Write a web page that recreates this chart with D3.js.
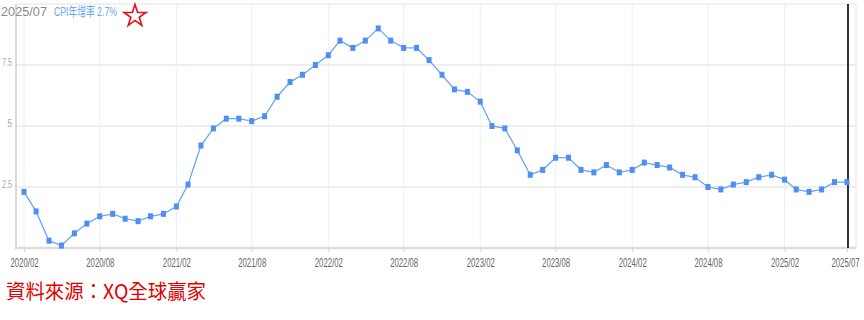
<!DOCTYPE html>
<html>
<head>
<meta charset="utf-8">
<script src="https://cdn.jsdelivr.net/npm/d3@7"></script>
<style>
  body { margin: 0; background: #fff; }
  svg { display: block; }
</style>
</head>
<body>
<svg id="svg"></svg>
<script>
// CPI yoy %, monthly from 2020/02 to 2025/07
const firstMonth = "2020/02";
const lastMonth = "2025/07";
const cpi = [
  2.3, 1.5, 0.3, 0.1, 0.6, 1.0, 1.3, 1.4, 1.2, 1.1, 1.3,
  1.4, 1.7, 2.6, 4.2, 4.9, 5.3, 5.3, 5.2, 5.4, 6.2, 6.8, 7.1,
  7.5, 7.9, 8.5, 8.2, 8.5, 9.0, 8.5, 8.2, 8.2, 7.7, 7.1, 6.5,
  6.4, 6.0, 5.0, 4.9, 4.0, 3.0, 3.2, 3.7, 3.7, 3.2, 3.1, 3.4,
  3.1, 3.2, 3.5, 3.4, 3.3, 3.0, 2.9, 2.5, 2.4, 2.6, 2.7, 2.9,
  3.0, 2.8, 2.4, 2.3, 2.4, 2.7, 2.7
];
const xTickLabels = ["2020/02", "2020/08", "2021/02", "2021/08", "2022/02", "2022/08",
  "2023/02", "2023/08", "2024/02", "2024/08", "2025/02", "2025/07"];
const yTicks = [2.5, 5, 7.5];
const legendDate = "2025/07";
const legendText = "CPI年增率 2.7%";
const sourceText = "資料來源：XQ全球贏家";

const width = 864, height = 320;
const parse = d3.timeParse("%Y/%m");
const fmt = d3.timeFormat("%Y/%m");

const months = d3.timeMonth.range(parse(firstMonth), d3.timeMonth.offset(parse(lastMonth), 1));
const data = months.map((d, i) => ({ date: d, value: cpi[i] }));

const svg = d3.select("#svg").attr("width", width).attr("height", height);

// plot frame
const plotLeft = 16, plotRight = 856, plotTop = 4, plotBottom = 248;

const x = d3.scaleTime()
  .domain([parse(firstMonth), parse(lastMonth)])
  .range([24, 847]);

const y = d3.scaleLinear()
  .domain([0, 10])
  .range([plotBottom, plotTop]);

const font = "'Liberation Sans', Arial, sans-serif";

// vertical grid
svg.append("g")
  .selectAll("line")
  .data(xTickLabels.slice(0, -1))
  .join("line")
  .attr("x1", d => x(parse(d))).attr("x2", d => x(parse(d)))
  .attr("y1", plotTop).attr("y2", plotBottom)
  .attr("stroke", "#e6f1fa")
  .attr("stroke-width", 1);

// horizontal grid
svg.append("g")
  .selectAll("line")
  .data(yTicks)
  .join("line")
  .attr("x1", plotLeft).attr("x2", plotRight)
  .attr("y1", d => y(d)).attr("y2", d => y(d))
  .attr("stroke", "#eeeeee")
  .attr("stroke-width", 2);

// frame
svg.append("line").attr("x1", plotLeft).attr("x2", plotRight).attr("y1", plotTop).attr("y2", plotTop)
  .attr("stroke", "#e2e2e2").attr("stroke-width", 1);
svg.append("line").attr("x1", plotRight).attr("x2", plotRight).attr("y1", plotTop).attr("y2", plotBottom)
  .attr("stroke", "#e6e6e6").attr("stroke-width", 1);
svg.append("line").attr("x1", plotLeft).attr("x2", plotLeft).attr("y1", plotTop).attr("y2", plotBottom + 1)
  .attr("stroke", "#cccccc").attr("stroke-width", 1.5);

// x axis
const xAxis = svg.append("g")
  .attr("transform", "translate(0," + plotBottom + ")")
  .call(d3.axisBottom(x)
    .tickValues(xTickLabels.map(parse))
    .tickFormat(fmt)
    .tickSize(4)
    .tickPadding(6));
xAxis.select(".domain")
  .attr("d", "M" + plotLeft + ",0H" + plotRight)
  .attr("stroke", "#dddddd")
  .attr("stroke-width", 2.5);
xAxis.selectAll(".tick line").attr("stroke", "#cfd8e0");
xAxis.selectAll(".tick text")
  .attr("fill", "#666")
  .attr("font-family", font)
  .attr("font-size", 12)
  .attr("textLength", 28)
  .attr("lengthAdjust", "spacingAndGlyphs");
xAxis.selectAll(".tick:last-of-type text").attr("dx", -2);

// y labels
svg.append("g")
  .selectAll("text")
  .data(yTicks)
  .join("text")
  .attr("x", 12)
  .attr("y", d => y(d) + 0.5)
  .attr("text-anchor", "end")
  .attr("fill", "#a8a8a8")
  .attr("font-family", font)
  .attr("font-size", 11.5)
  .attr("textLength", d => String(d).length > 1 ? 10 : 4.5)
  .attr("lengthAdjust", "spacingAndGlyphs")
  .text(d => d);

// current month marker
svg.append("line")
  .attr("x1", x(parse(lastMonth)) + 1).attr("x2", x(parse(lastMonth)) + 1)
  .attr("y1", plotTop).attr("y2", plotBottom)
  .attr("stroke", "#333")
  .attr("stroke-width", 2);

// line
svg.append("path")
  .datum(data)
  .attr("fill", "none")
  .attr("stroke", "#6aa6f6")
  .attr("stroke-width", 1.3)
  .attr("d", d3.line()
    .x(d => x(d.date))
    .y(d => y(d.value)));

// markers
svg.append("g")
  .selectAll("rect")
  .data(data)
  .join("rect")
  .attr("x", d => x(d.date) - 2.5)
  .attr("y", d => y(d.value) - 3)
  .attr("width", 5)
  .attr("height", 6)
  .attr("fill", "#4f8ef2");

// legend
svg.append("text")
  .attr("x", 1).attr("y", 16)
  .attr("fill", "#8a8a8a")
  .attr("font-family", font)
  .attr("font-size", 12.5)
  .attr("textLength", 46)
  .attr("lengthAdjust", "spacingAndGlyphs")
  .text(legendDate);
svg.append("text")
  .attr("x", 54).attr("y", 16)
  .attr("fill", "#6aa6f6")
  .attr("font-family", "'Liberation Sans', 'Noto Sans CJK TC', sans-serif")
  .attr("font-size", 13)
  .attr("textLength", 63)
  .attr("lengthAdjust", "spacingAndGlyphs")
  .text(legendText);

// star
const star = d3.symbol().type(d3.symbolStar).size(150);
svg.append("path")
  .attr("d", star())
  .attr("transform", "translate(135,16)")
  .attr("fill", "none")
  .attr("stroke", "#e01010")
  .attr("stroke-width", 1.6);

// source note
svg.append("text")
  .attr("x", 6).attr("y", 299)
  .attr("fill", "#e00000")
  .attr("font-family", "'Noto Sans CJK TC', sans-serif")
  .attr("font-size", 20)
  .attr("textLength", 200)
  .attr("lengthAdjust", "spacingAndGlyphs")
  .text(sourceText);
</script>
</body>
</html>
